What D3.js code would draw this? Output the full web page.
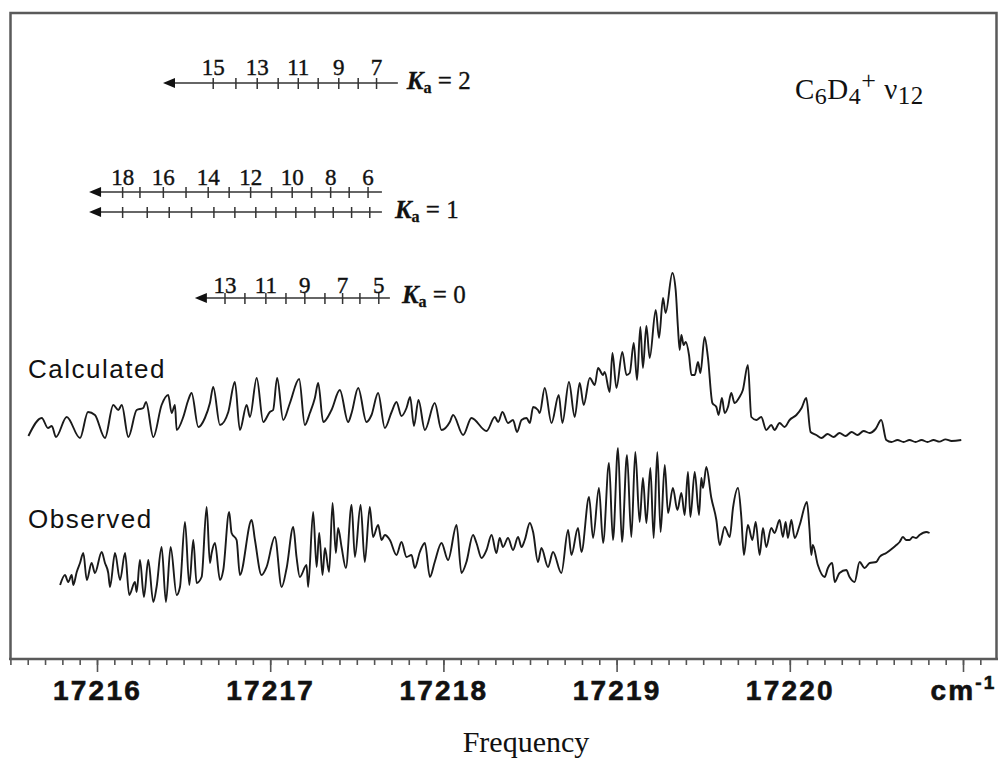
<!DOCTYPE html>
<html>
<head>
<meta charset="utf-8">
<script src="https://cdn.jsdelivr.net/npm/d3@7/dist/d3.min.js"></script>
<style>
  body { margin: 0; background: #fff; }
  svg { display: block; }
</style>
</head>
<body>
<svg id="chart"></svg>
<script>
// spectra: [frequency (cm-1), relative intensity]
const calculated = [
  [17215.604,0.02],[17215.681,0.11],[17215.717,0.06],[17215.739,0.07],[17215.763,0.015],[17215.825,0.115],
  [17215.902,0.01],[17215.948,0.14],[17215.988,0.125],[17216.046,0.01],[17216.094,0.175],[17216.123,0.15],
  [17216.143,0.175],[17216.181,0.015],[17216.229,0.15],[17216.267,0.16],[17216.283,0.19],[17216.325,0.015],
  [17216.373,0.175],[17216.411,0.225],[17216.431,0.135],[17216.450,0.175],[17216.460,0.05],[17216.498,0.115],
  [17216.527,0.20],[17216.546,0.235],[17216.585,0.065],[17216.623,0.11],[17216.652,0.185],[17216.671,0.265],
  [17216.710,0.075],[17216.758,0.14],[17216.796,0.29],[17216.825,0.05],[17216.864,0.175],[17216.883,0.115],
  [17216.922,0.31],[17216.960,0.09],[17216.998,0.14],[17217.017,0.15],[17217.040,0.31],[17217.075,0.10],
  [17217.114,0.185],[17217.167,0.305],[17217.200,0.075],[17217.229,0.135],[17217.258,0.21],[17217.277,0.285],
  [17217.306,0.09],[17217.354,0.15],[17217.402,0.25],[17217.450,0.09],[17217.470,0.135],[17217.508,0.26],
  [17217.556,0.09],[17217.585,0.125],[17217.623,0.235],[17217.662,0.06],[17217.701,0.14],[17217.729,0.19],
  [17217.758,0.12],[17217.787,0.16],[17217.808,0.215],[17217.830,0.07],[17217.856,0.20],[17217.893,0.05],
  [17217.950,0.185],[17217.989,0.05],[17218.037,0.09],[17218.056,0.125],[17218.114,0.025],[17218.162,0.11],
  [17218.249,0.045],[17218.297,0.115],[17218.316,0.09],[17218.341,0.14],[17218.373,0.085],[17218.402,0.10],
  [17218.425,0.04],[17218.451,0.10],[17218.480,0.11],[17218.499,0.085],[17218.518,0.165],[17218.546,0.15],
  [17218.556,0.135],[17218.585,0.26],[17218.624,0.085],[17218.666,0.225],[17218.687,0.085],[17218.725,0.29],
  [17218.758,0.115],[17218.787,0.285],[17218.810,0.175],[17218.845,0.31],[17218.874,0.275],[17218.893,0.36],
  [17218.922,0.325],[17218.931,0.34],[17218.960,0.24],[17218.976,0.435],[17218.999,0.26],[17219.033,0.44],
  [17219.057,0.325],[17219.076,0.335],[17219.099,0.485],[17219.118,0.30],[17219.137,0.565],[17219.152,0.36],
  [17219.172,0.57],[17219.191,0.41],[17219.226,0.65],[17219.245,0.51],[17219.268,0.71],[17219.283,0.635],
  [17219.322,0.835],[17219.341,0.75],[17219.354,0.565],[17219.364,0.45],[17219.374,0.525],[17219.387,0.475],
  [17219.399,0.49],[17219.418,0.425],[17219.432,0.325],[17219.451,0.325],[17219.470,0.39],[17219.484,0.335],
  [17219.508,0.515],[17219.527,0.415],[17219.553,0.185],[17219.576,0.165],[17219.589,0.125],[17219.608,0.21],
  [17219.624,0.135],[17219.643,0.165],[17219.662,0.235],[17219.681,0.185],[17219.710,0.215],[17219.729,0.25],
  [17219.758,0.375],[17219.778,0.115],[17219.807,0.10],[17219.835,0.115],[17219.864,0.05],[17219.893,0.075],
  [17219.912,0.05],[17219.941,0.085],[17219.970,0.065],[17219.999,0.10],[17220.038,0.125],[17220.068,0.16],
  [17220.095,0.21],[17220.120,0.04],[17220.153,0.025],[17220.183,0.01],[17220.218,0.03],[17220.253,0.015],
  [17220.287,0.035],[17220.322,0.02],[17220.357,0.04],[17220.391,0.025],[17220.426,0.045],[17220.461,0.035],
  [17220.495,0.055],[17220.528,0.10],[17220.557,0.00],[17220.587,-0.01],[17220.622,0.00],[17220.657,-0.01],
  [17220.691,0.00],[17220.726,-0.01],[17220.761,0.00],[17220.795,-0.01],[17220.830,0.00],[17220.864,-0.008],
  [17220.899,0.003],[17220.934,-0.005],[17220.990,0.00]
];

const observed = [
  [17215.787,0.10],[17215.815,0.15],[17215.834,0.115],[17215.854,0.15],[17215.863,0.10],[17215.883,0.165],
  [17215.902,0.21],[17215.921,0.26],[17215.941,0.125],[17215.969,0.21],[17215.988,0.16],[17216.027,0.265],
  [17216.046,0.21],[17216.065,0.16],[17216.075,0.09],[17216.104,0.26],[17216.133,0.125],[17216.162,0.26],
  [17216.186,0.05],[17216.219,0.115],[17216.229,0.065],[17216.248,0.225],[17216.271,0.04],[17216.296,0.225],
  [17216.325,0.015],[17216.344,0.09],[17216.373,0.29],[17216.398,0.015],[17216.425,0.29],[17216.460,0.05],
  [17216.479,0.09],[17216.508,0.415],[17216.533,0.10],[17216.556,0.325],[17216.575,0.11],[17216.604,0.14],
  [17216.633,0.49],[17216.652,0.21],[17216.662,0.26],[17216.681,0.31],[17216.710,0.125],[17216.729,0.175],
  [17216.763,0.465],[17216.777,0.36],[17216.806,0.325],[17216.825,0.15],[17216.893,0.425],[17216.912,0.325],
  [17216.950,0.15],[17216.979,0.19],[17217.027,0.34],[17217.066,0.09],[17217.095,0.185],[17217.133,0.39],
  [17217.152,0.24],[17217.171,0.14],[17217.210,0.20],[17217.219,0.09],[17217.248,0.465],[17217.268,0.19],
  [17217.283,0.36],[17217.302,0.15],[17217.316,0.285],[17217.340,0.165],[17217.360,0.51],[17217.379,0.26],
  [17217.392,0.385],[17217.412,0.29],[17217.437,0.185],[17217.470,0.50],[17217.489,0.24],[17217.522,0.50],
  [17217.546,0.215],[17217.575,0.49],[17217.594,0.34],[17217.623,0.40],[17217.643,0.325],[17217.662,0.35],
  [17217.691,0.325],[17217.729,0.25],[17217.758,0.315],[17217.787,0.24],[17217.816,0.25],[17217.835,0.185],
  [17217.864,0.265],[17217.893,0.31],[17217.922,0.14],[17217.950,0.215],[17217.989,0.31],[17218.027,0.225],
  [17218.076,0.40],[17218.104,0.16],[17218.133,0.215],[17218.171,0.35],[17218.191,0.31],[17218.220,0.235],
  [17218.249,0.275],[17218.278,0.35],[17218.306,0.26],[17218.325,0.335],[17218.344,0.29],[17218.373,0.335],
  [17218.402,0.275],[17218.431,0.34],[17218.451,0.29],[17218.470,0.325],[17218.499,0.41],[17218.518,0.365],
  [17218.546,0.215],[17218.566,0.285],[17218.604,0.19],[17218.633,0.265],[17218.681,0.16],[17218.720,0.375],
  [17218.739,0.25],[17218.777,0.385],[17218.797,0.265],[17218.841,0.54],[17218.864,0.335],[17218.898,0.585],
  [17218.922,0.31],[17218.956,0.71],[17218.979,0.325],[17219.008,0.785],[17219.031,0.315],[17219.060,0.75],
  [17219.085,0.34],[17219.108,0.765],[17219.133,0.415],[17219.152,0.635],[17219.172,0.41],[17219.195,0.685],
  [17219.214,0.335],[17219.235,0.765],[17219.254,0.365],[17219.278,0.70],[17219.297,0.46],[17219.325,0.585],
  [17219.351,0.475],[17219.374,0.56],[17219.393,0.45],[17219.412,0.665],[17219.426,0.44],[17219.451,0.665],
  [17219.476,0.45],[17219.489,0.635],[17219.499,0.585],[17219.518,0.69],[17219.547,0.535],[17219.576,0.425],
  [17219.595,0.30],[17219.624,0.39],[17219.653,0.34],[17219.672,0.485],[17219.701,0.585],[17219.720,0.44],
  [17219.735,0.25],[17219.758,0.40],[17219.784,0.325],[17219.803,0.415],[17219.826,0.25],[17219.845,0.385],
  [17219.864,0.29],[17219.893,0.385],[17219.912,0.36],[17219.941,0.425],[17219.960,0.34],[17219.976,0.415],
  [17219.989,0.335],[17220.009,0.425],[17220.028,0.335],[17220.057,0.40],[17220.099,0.515],[17220.114,0.375],
  [17220.124,0.25],[17220.133,0.30],[17220.162,0.20],[17220.201,0.14],[17220.220,0.185],[17220.245,0.21],
  [17220.259,0.115],[17220.287,0.16],[17220.326,0.175],[17220.345,0.14],[17220.374,0.115],[17220.403,0.215],
  [17220.432,0.185],[17220.461,0.21],[17220.499,0.215],[17220.518,0.24],[17220.557,0.26],[17220.595,0.285],
  [17220.615,0.30],[17220.634,0.315],[17220.653,0.34],[17220.672,0.325],[17220.691,0.325],[17220.710,0.34],
  [17220.729,0.335],[17220.749,0.35],[17220.788,0.365],[17220.807,0.36]
];

// assignment ladders (tick frequencies in cm-1, left to right, with J values)
const ka2J = [15, 14, 13, 12, 11, 10, 9, 8, 7];
const ka2Freq = [17216.671, 17216.802, 17216.925, 17217.046, 17217.162, 17217.277, 17217.396, 17217.508, 17217.614];
const ka2Labels = [15, 13, 11, 9, 7];
const ka2Span = [17216.381, 17217.737];

const ka1J = [18, 17, 16, 15, 14, 13, 12, 11, 10, 9, 8, 7, 6];
const ka1UpperFreq = [17216.148, 17216.248, 17216.383, 17216.514, 17216.642, 17216.763, 17216.887,
                      17217.008, 17217.127, 17217.239, 17217.349, 17217.456, 17217.565];
const ka1LowerFreq = [17216.148, 17216.290, 17216.417, 17216.546, 17216.675, 17216.796, 17216.917,
                      17217.033, 17217.148, 17217.258, 17217.364, 17217.470, 17217.575];
const ka1Labels = [18, 16, 14, 12, 10, 8, 6];
const ka1Span = [17215.954, 17217.645];

const ka0J = [13, 12, 11, 10, 9, 8, 7, 6, 5];
const ka0Freq = [17216.739, 17216.854, 17216.975, 17217.091, 17217.200, 17217.316, 17217.418, 17217.518, 17217.627];
const ka0Labels = [13, 11, 9, 7, 5];
const ka0Span = [17216.565, 17217.691];

const majorTicks = [17216, 17217, 17218, 17219, 17220, 17221];

const width = 999;
const height = 758;

const svg = d3.select("#chart")
    .attr("width", width)
    .attr("height", height);

const x = d3.scaleLinear().domain([17216, 17221]).range([97, 963]);
const y = d3.scaleLinear().domain([0, 3.235]).range([660, 13]);

const calcOffset = 1.10;
const obsOffset = 0.275;

const serif = "'Liberation Serif', 'Times New Roman', serif";
const sans = "'Liberation Sans', Arial, Helvetica, sans-serif";

// frame
svg.append("path")
    .attr("d", "M10.5,659 V13 H996.5 V659")
    .attr("fill", "none")
    .attr("stroke", "#5a5a5a")
    .attr("stroke-width", 2.5);

// x axis: minor ticks every 0.1 cm-1, major every 1 cm-1
const minorTicks = d3.range(0, 57).map(i => +(17215.5 + i * 0.1).toFixed(1));

svg.append("g")
    .attr("transform", "translate(0,659)")
    .call(d3.axisBottom(x).tickValues(minorTicks).tickSize(6).tickFormat(""));

const axisMajor = svg.append("g")
    .attr("transform", "translate(0,659)")
    .call(d3.axisBottom(x).tickValues(majorTicks).tickSize(13).tickFormat(d3.format("d")));

svg.selectAll(".domain").remove();
svg.selectAll(".tick line").attr("stroke", "#555").attr("stroke-width", 1.6);

svg.append("line")
    .attr("x1", 9).attr("x2", 998)
    .attr("y1", 659).attr("y2", 659)
    .attr("stroke", "#5a5a5a")
    .attr("stroke-width", 2.5);

axisMajor.selectAll("text")
    .attr("y", 41)
    .attr("dy", 0)
    .attr("fill", "#111")
    .attr("stroke", "#111")
    .attr("stroke-width", 0.6)
    .style("font-family", sans)
    .style("font-weight", "bold")
    .style("font-size", "28px")
    .style("letter-spacing", "2.2px")
    .each(function(d) {
        if (d === 17221) {
            const t = d3.select(this).text("");
            t.append("tspan").text("cm");
            t.append("tspan").attr("dy", -11).style("font-size", "19px").text("-1");
        }
    });

svg.append("text")
    .attr("x", 526)
    .attr("y", 752)
    .attr("text-anchor", "middle")
    .style("font-family", serif)
    .style("font-size", "30px")
    .attr("fill", "#111")
    .text("Frequency");

// spectra
const line = d3.line().curve(d3.curveMonotoneX);

svg.append("path")
    .attr("d", line(calculated.map(d => [x(d[0]), y(d[1] + calcOffset)])))
    .attr("fill", "none")
    .attr("stroke", "#1a1a1a")
    .attr("stroke-width", 1.9)
    .attr("stroke-linejoin", "round");

svg.append("path")
    .attr("d", line(observed.map(d => [x(d[0]), y(d[1] + obsOffset)])))
    .attr("fill", "none")
    .attr("stroke", "#1a1a1a")
    .attr("stroke-width", 1.9)
    .attr("stroke-linejoin", "round");

svg.append("text")
    .attr("x", 28).attr("y", 378)
    .style("font-family", sans)
    .style("font-size", "26px")
    .style("letter-spacing", "1.5px")
    .attr("fill", "#111")
    .text("Calculated");

svg.append("text")
    .attr("x", 28).attr("y", 528)
    .style("font-family", sans)
    .style("font-size", "26px")
    .style("letter-spacing", "1.5px")
    .attr("fill", "#111")
    .text("Observed");

// title
const title = svg.append("text")
    .attr("x", 795).attr("y", 99)
    .style("font-family", serif)
    .style("font-size", "29px")
    .style("letter-spacing", "0.5px")
    .attr("fill", "#111");
title.append("tspan").text("C");
title.append("tspan").attr("dy", 5).style("font-size", "24px").text("6");
title.append("tspan").attr("dy", -5).text("D");
title.append("tspan").attr("dy", 5).style("font-size", "24px").text("4");
title.append("tspan").attr("dy", -15).style("font-size", "26px").text("+");
title.append("tspan").attr("dy", 10).text(" \u03bd");
title.append("tspan").attr("dy", 5).style("font-size", "25px").text("12");

// ladders
function drawLadder(ly, span, freqs, J, labels, labelDy) {
    const g = svg.append("g").attr("stroke", "#333");
    const x0 = x(span[0]);
    g.append("line")
        .attr("x1", x0 + 8).attr("x2", x(span[1]))
        .attr("y1", ly).attr("y2", ly)
        .attr("stroke-width", 1.7);
    g.append("path")
        .attr("d", `M${x0},${ly} L${x0 + 12},${ly - 5} L${x0 + 12},${ly + 5} Z`)
        .attr("fill", "#111")
        .attr("stroke", "none");
    g.selectAll("line.tick")
        .data(freqs)
        .join("line")
        .attr("class", "tick")
        .attr("x1", d => x(d)).attr("x2", d => x(d))
        .attr("y1", ly - 5).attr("y2", ly + 6)
        .attr("stroke-width", 1.5);
    if (labels) {
        svg.append("g")
            .selectAll("text")
            .data(labels)
            .join("text")
            .attr("x", d => x(freqs[J.indexOf(d)]))
            .attr("y", ly - labelDy)
            .attr("text-anchor", "middle")
            .style("font-family", serif)
            .style("font-size", "23px")
            .attr("fill", "#111")
            .attr("stroke", "#111")
            .attr("stroke-width", 0.4)
            .text(d => d);
    }
}

function kaLabel(lx, ly, value) {
    const t = svg.append("text")
        .attr("x", lx).attr("y", ly)
        .style("font-family", serif)
        .style("font-size", "25px")
        .attr("fill", "#111")
        .attr("stroke", "#111")
        .attr("stroke-width", 0.3);
    t.append("tspan").style("font-style", "italic").style("font-weight", "bold").text("K");
    t.append("tspan").attr("dy", 4).style("font-size", "16px").style("font-weight", "bold").text("a");
    t.append("tspan").attr("dy", -4).text(" = " + value);
}

drawLadder(83, ka2Span, ka2Freq, ka2J, ka2Labels, 8);
kaLabel(x(ka2Span[1]) + 9, 89, 2);

drawLadder(192, ka1Span, ka1UpperFreq, ka1J, ka1Labels, 7);
drawLadder(212, ka1Span, ka1LowerFreq, ka1J, null, 0);
kaLabel(x(ka1Span[1]) + 13, 218, 1);

drawLadder(298, ka0Span, ka0Freq, ka0J, ka0Labels, 5);
kaLabel(x(ka0Span[1]) + 12, 303, 0);
</script>
</body>
</html>
